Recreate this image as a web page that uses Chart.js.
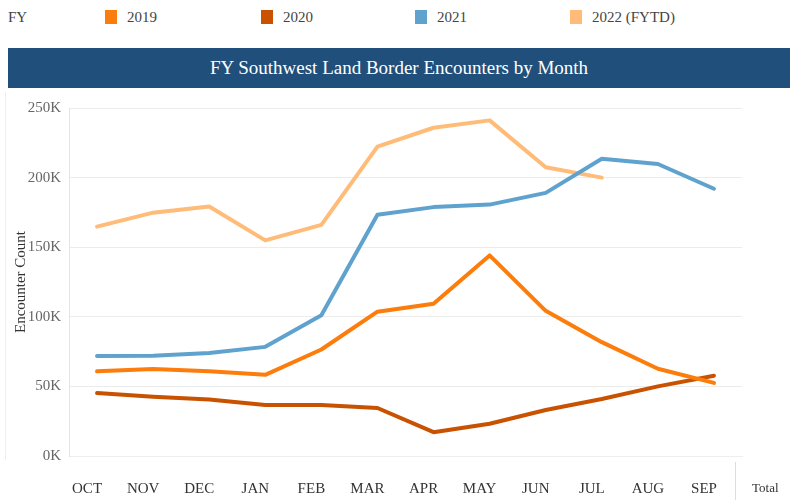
<!DOCTYPE html>
<html>
<head>
<meta charset="utf-8">
<script src="https://cdn.jsdelivr.net/npm/chart.js@4/dist/chart.umd.min.js"></script>
<style>
  body { margin: 0; background: #fff; font-family: "Liberation Serif", serif; }
  #wrap { position: relative; width: 798px; height: 500px; overflow: hidden; }
  .leg { position: absolute; top: 8px; font-size: 15px; color: #444; line-height: 18px; }
  .sw { position: absolute; top: 10px; width: 12px; height: 14px; }
  #title { position: absolute; left: 8px; top: 48px; width: 782px; height: 40px; background: #214f7b;
           color: #fff; font-size: 19px; text-align: center; line-height: 40px; }
  #chartBox { position: absolute; left: 0; top: 90px; width: 798px; height: 410px; }
  #total { position: absolute; left: 752px; top: 480px; font-size: 13px; color: #333; }
  #div { position: absolute; left: 735px; top: 462px; width: 1px; height: 38px; background: #ddd; }
  #lborder { position: absolute; left: 5px; top: 92px; width: 1px; height: 368px; background: #eee; }
</style>
</head>
<body>
<div id="wrap">
  <div class="leg" style="left:8px">FY</div>
  <div id="legend"></div>
  <div id="title">FY Southwest Land Border Encounters by Month</div>
  <div id="lborder"></div>
  <div id="chartBox"><canvas id="c" width="798" height="410"></canvas></div>
  <div id="div"></div>
  <div id="total">Total</div>
</div>
<script>
const months = ['OCT', 'NOV', 'DEC', 'JAN', 'FEB', 'MAR', 'APR', 'MAY', 'JUN', 'JUL', 'AUG', 'SEP'];
const fy2019 = [60800, 62500, 60800, 58300, 76500, 103700, 109400, 144100, 104300, 81800, 62700, 52500];
const fy2020 = [45200, 42600, 40600, 36600, 36700, 34500, 17100, 23200, 33000, 40900, 50000, 57700];
const fy2021 = [71900, 72100, 74000, 78400, 101100, 173300, 178800, 180600, 189000, 213600, 209800, 192000];
const fy2022 = [164800, 174800, 179300, 154900, 166000, 222200, 235800, 241100, 207400, 200000];
const seriesNames = ['2019', '2020', '2021', '2022 (FYTD)'];
const seriesColors = ['#fc7d0b', '#c85200', '#5fa2ce', '#ffbc79'];
const yTicks = [0, 50000, 100000, 150000, 200000, 250000];

// html legend
const legX = [105, 261, 415, 570];
let legHtml = '';
seriesNames.forEach((n, i) => {
  legHtml += '<div class="sw" style="left:' + legX[i] + 'px;background:' + seriesColors[i] + '"></div>';
  legHtml += '<div class="leg" style="left:' + (legX[i] + 22) + 'px">' + n + '</div>';
});
document.getElementById('legend').innerHTML = legHtml;

const seriesData = [fy2019, fy2020, fy2021, fy2022];
const datasets = seriesData.map((d, i) => ({
  label: seriesNames[i],
  data: d,
  borderColor: seriesColors[i],
  backgroundColor: seriesColors[i],
  borderWidth: 4,
  pointRadius: 0,
  borderJoinStyle: 'round',
  borderCapStyle: 'round',
  tension: 0,
  fill: false
}));

const font = { family: '"Liberation Serif", serif', size: 15 };

new Chart(document.getElementById('c').getContext('2d'), {
  type: 'line',
  data: { labels: months, datasets: datasets },
  options: {
    responsive: false,
    animation: false,
    layout: { padding: { left: 0, right: 56, top: 18, bottom: 0 } },
    plugins: { legend: { display: false }, tooltip: { enabled: false } },
    scales: {
      x: {
        offset: true,
        grid: { display: false },
        border: { color: '#eeeeee' },
        ticks: { font: font, color: '#333', padding: 16, labelOffset: -10, maxRotation: 0 },
        afterFit: s => { s.height = 44; }
      },
      y: {
        min: 0,
        max: 250000,
        afterBuildTicks: s => { s.ticks = yTicks.map(v => ({ value: v })); },
        grid: { color: '#ececec', drawTicks: false },
        border: { color: '#e4e4e4' },
        ticks: {
          font: font, color: '#666', padding: 8,
          callback: v => (v / 1000) + 'K'
        },
        title: {
          display: true, text: 'Encounter Count', font: font, color: '#333',
          padding: { top: 12, bottom: 0 }
        },
        afterFit: s => { s.width = 69; }
      }
    }
  }
});
</script>
</body>
</html>
